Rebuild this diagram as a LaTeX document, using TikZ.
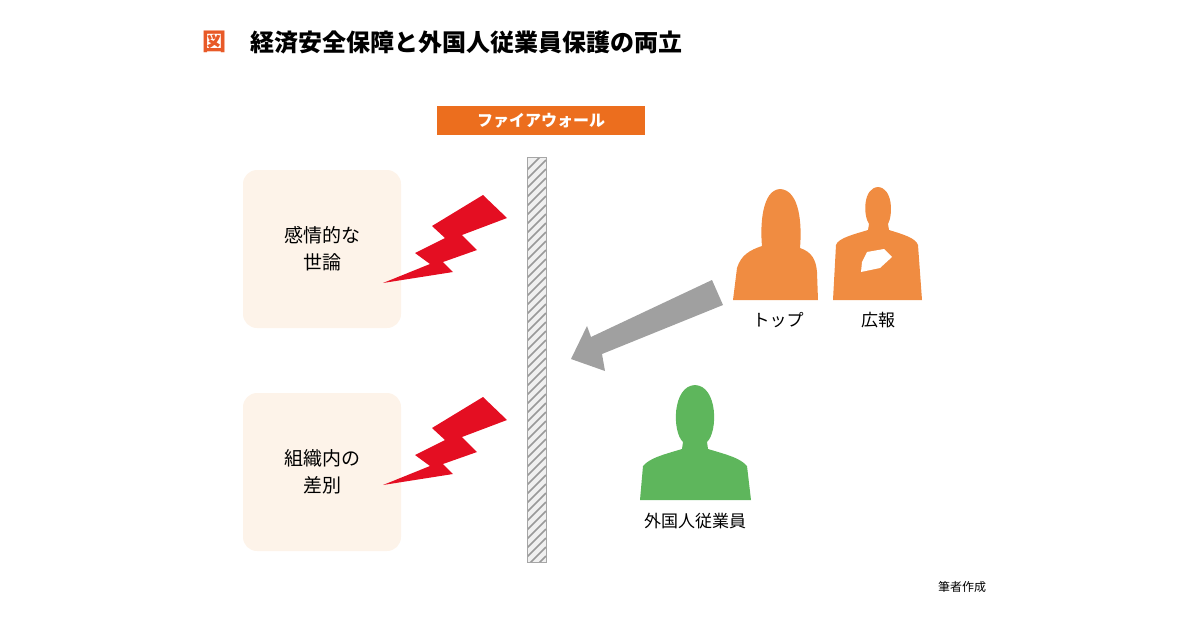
\documentclass[tikz,border=0pt]{standalone}
\usepackage{fontspec}
\setmainfont{Noto Sans CJK JP}
\usetikzlibrary{patterns}
\definecolor{titleorange}{RGB}{232,90,40}
\definecolor{bannerorange}{RGB}{236,110,30}
\definecolor{personorange}{RGB}{240,140,65}
\definecolor{persongreen}{RGB}{94,182,92}
\definecolor{boltred}{RGB}{228,14,34}
\definecolor{boxfill}{RGB}{253,243,233}
\definecolor{arrowgray}{RGB}{160,160,160}
\tikzset{
  opinionbox/.style={fill=boxfill, rounded corners=14pt},
  boxtext/.style={font=\fontsize{19}{27}\selectfont, align=center},
  personlabel/.style={font=\fontsize{17}{20}\selectfont},
}
\begin{document}
\begin{tikzpicture}[x=1pt,y=-1pt]
\useasboundingbox (0,0) rectangle (1200,630);

% title
\node[anchor=west, text=titleorange, font=\fontsize{24}{27}\selectfont\bfseries] (fig) at (199,42) {図};
\node[anchor=west, font=\fontsize{24}{27}\selectfont\bfseries] (title) at (247,42) {経済安全保障と外国人従業員保護の両立};

% banner
\fill[bannerorange] (437,106) rectangle (645,135);
\node[text=white, font=\fontsize{16}{18}\selectfont\bfseries] (banner) at (541,120.5) {ファイアウォール};

% wall
\fill[gray!12] (527,157) rectangle (546,562);
\begin{scope}
\clip (527,157) rectangle (546,562);
\foreach \k in {0,...,46} {
  \draw[gray!80, line width=1.6pt] (527,{170+9*\k}) -- (546,{151+9*\k});
}
\end{scope}
\draw[gray!70, line width=0.6pt] (527,157) rectangle (546,562);

% opinion boxes
\fill[opinionbox] (243,170) rectangle (401,328);
\node[boxtext] (opinion) at (322,249) {感情的な\\世論};
\fill[opinionbox] (243,393) rectangle (401,551);
\node[boxtext] (discrim) at (322,472) {組織内の\\差別};

% bolts
\foreach \dy in {0,202} {
  \fill[boltred, yshift=-\dy] (483,195) -- (507,218) -- (462,235) -- (477,250) -- (443,262)
    -- (453,272) -- (383,283) -- (430,264) -- (415,253) -- (445,238) -- (432,226) -- cycle;
}

% arrow
\fill[arrowgray] (712,280) -- (723,305) -- (602,354) -- (605,371) -- (571,359)
  -- (587,326) -- (591,337) -- cycle;

% top (woman)
\fill[personorange] (733,300) -- (737,268) .. controls (741,255) and (750,250) .. (762,246)
  .. controls (760,225) and (762,190) .. (780,189) .. controls (800,190) and (802,225) .. (800,248)
  .. controls (812,252) and (816,260) .. (817,272) -- (818,300) -- cycle;
\node[personlabel] (top) at (778,320) {トップ};

% PR (man)
\fill[personorange] (833,300) -- (836,245) .. controls (838,238) and (855,234) .. (868,230)
  -- (869,224) .. controls (863,215) and (863,188) .. (878,187) .. controls (893,188) and (893,215) .. (888,224)
  -- (889,230) .. controls (902,234) and (916,238) .. (918,245) -- (922,300) -- cycle;
\fill[white] (862,262) -- (867,252) -- (884,249) -- (892,257) -- (880,268) -- (861,272) -- cycle;
\node[personlabel] (pr) at (878,320) {広報};

% foreign employee
\fill[persongreen] (640,500) -- (643,466) .. controls (650,458) and (662,455) .. (682,449)
  -- (683,442) .. controls (672,432) and (672,386) .. (695,385) .. controls (718,386) and (718,432) .. (707,442)
  -- (708,449) .. controls (728,455) and (740,458) .. (747,466) -- (751,500) -- cycle;
\node[personlabel] (staff) at (695,521) {外国人従業員};

% source
\node[font=\fontsize{12}{14}\selectfont] (source) at (962,587) {筆者作成};
\end{tikzpicture}
\end{document}
